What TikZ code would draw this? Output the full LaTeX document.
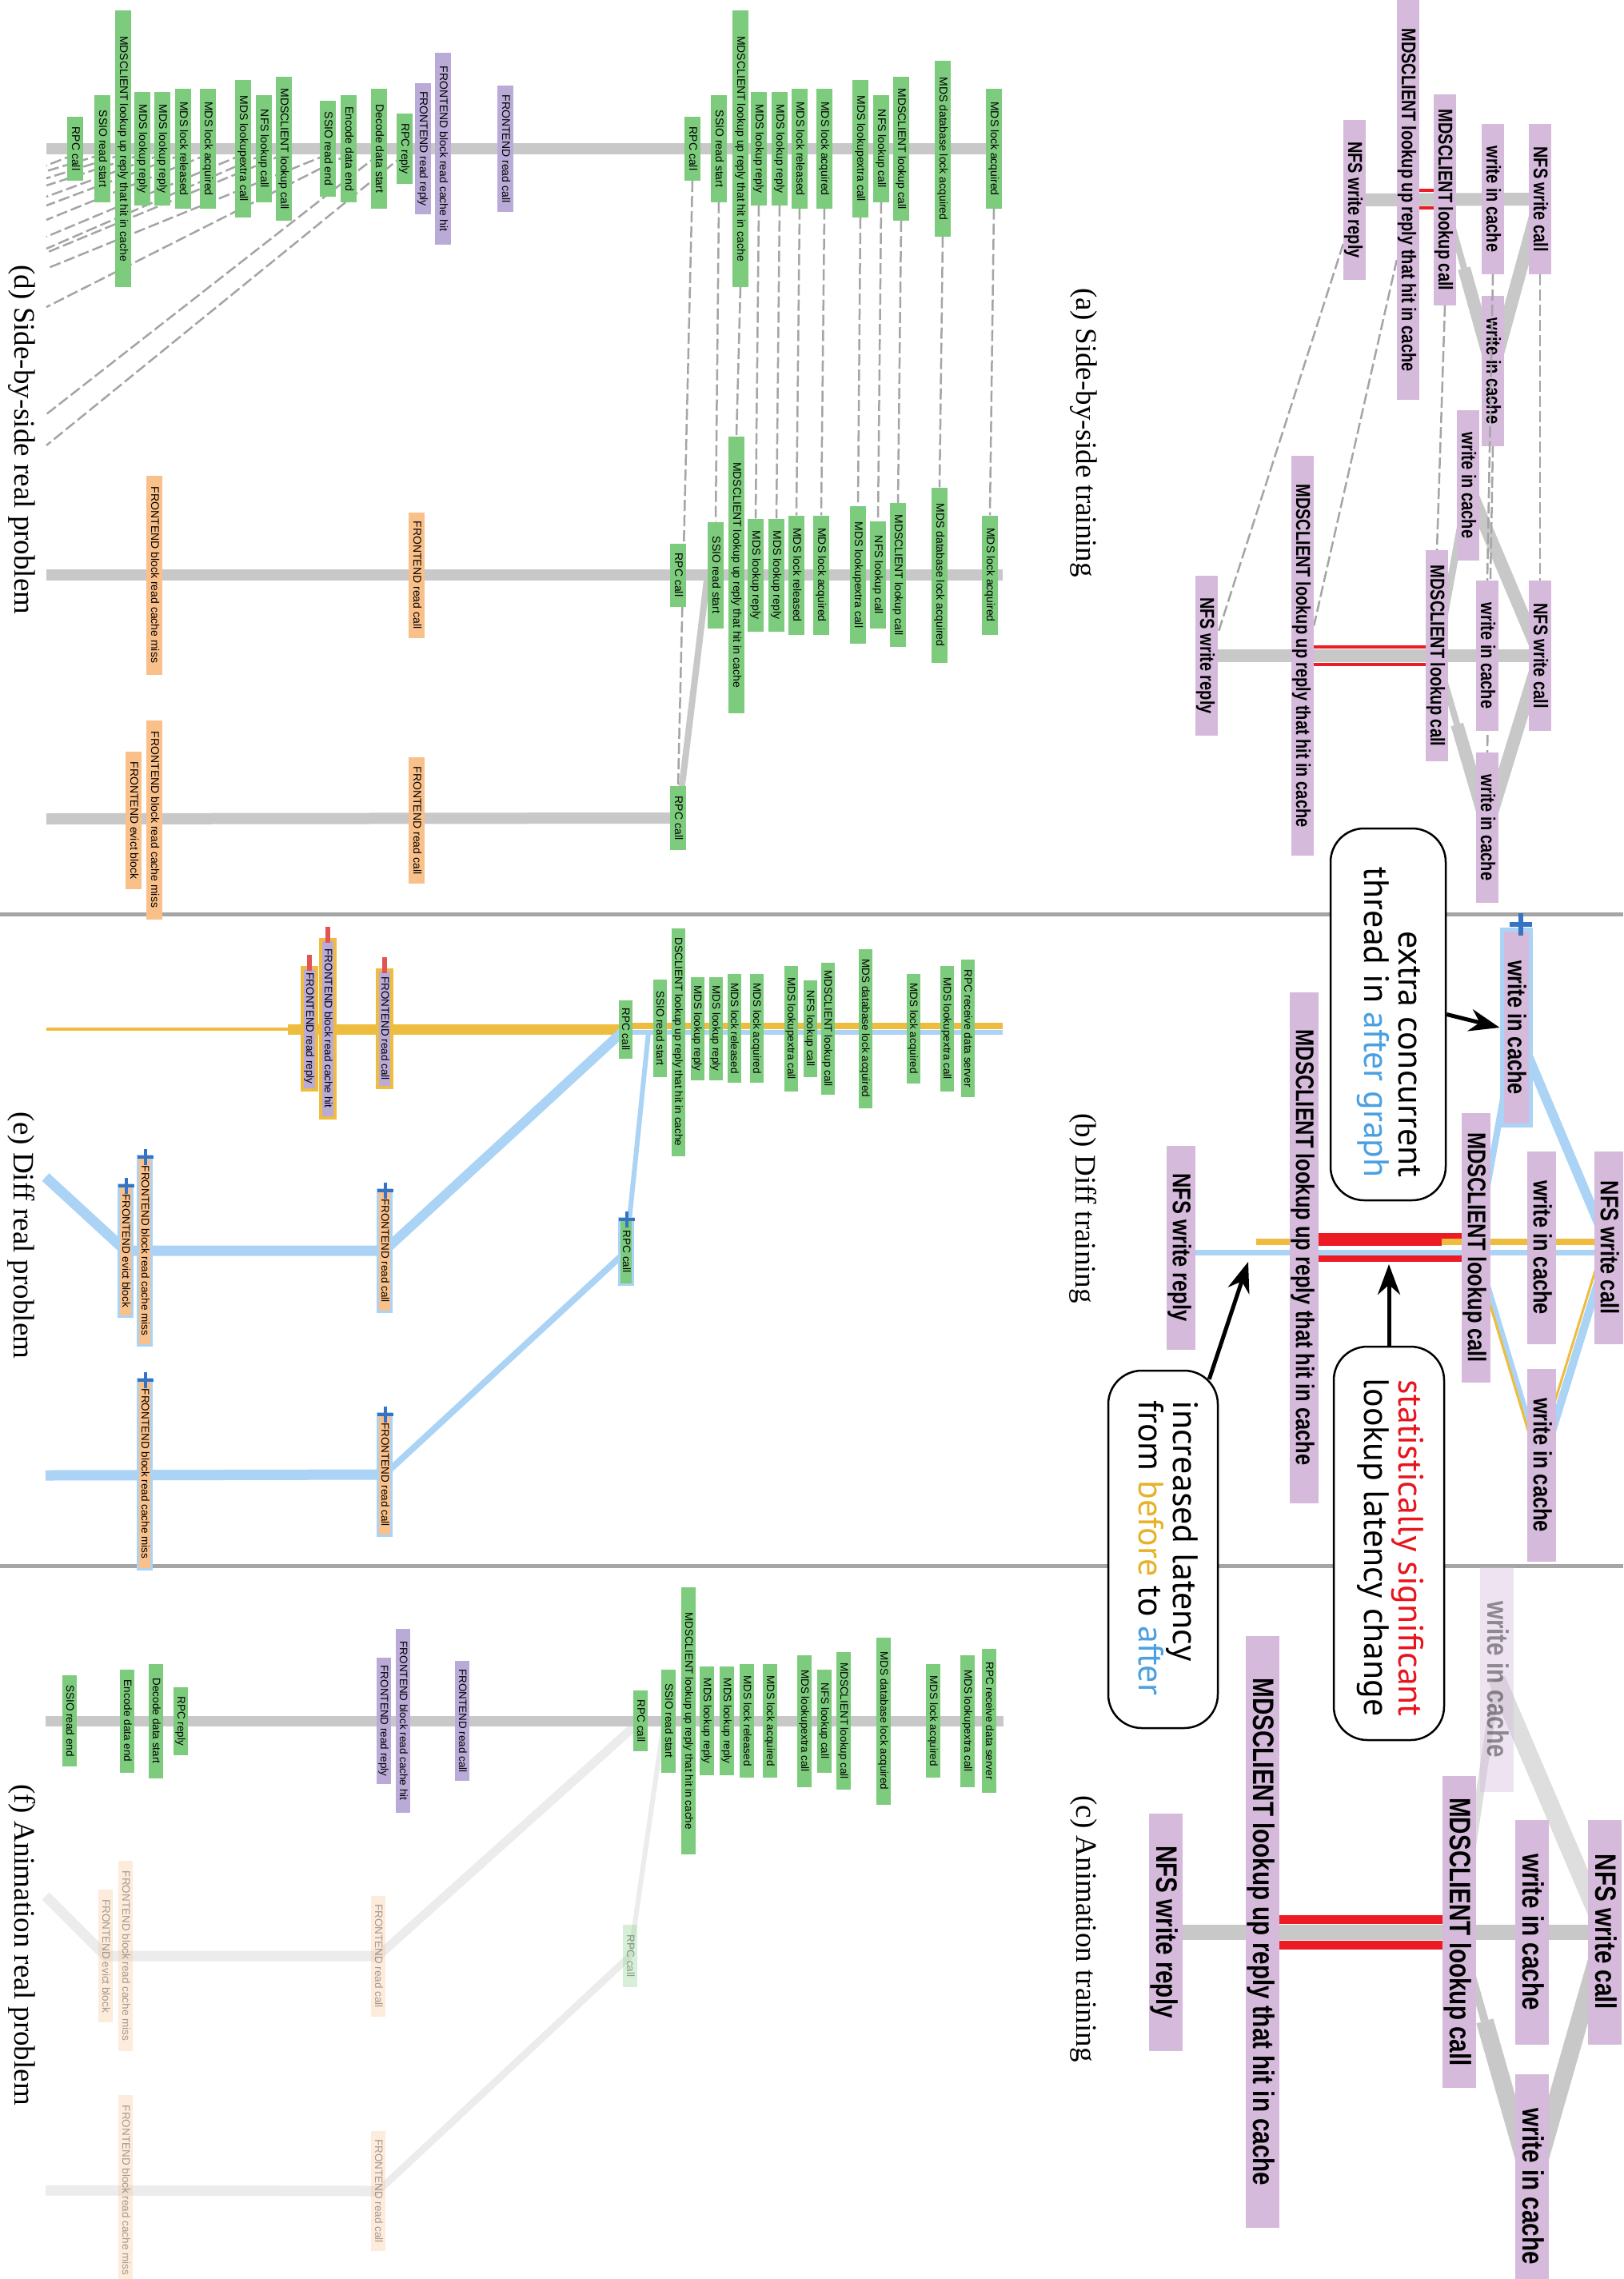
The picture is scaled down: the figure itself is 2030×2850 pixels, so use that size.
\documentclass[tikz,border=0pt]{standalone}
\usepackage{fontspec}
\usetikzlibrary{calc,arrows.meta}
\newfontfamily\tlab{Liberation Sans}[FakeStretch=0.8]
\newfontfamily\rlab{Liberation Sans}
\newfontfamily\capf{Liberation Serif}
\newfontfamily\cof{PT Sans}
\definecolor{tlav}{RGB}{213,186,219}
\definecolor{lgray}{RGB}{200,200,200}
\definecolor{fgray}{RGB}{222,222,222}
\definecolor{vfgray}{RGB}{236,236,236}
\definecolor{sepgray}{RGB}{165,165,165}
\definecolor{dashc}{RGB}{165,165,165}
\definecolor{sred}{RGB}{237,28,36}
\definecolor{lblue}{RGB}{170,211,245}
\definecolor{pblue}{RGB}{55,115,195}
\definecolor{gold}{RGB}{238,188,62}
\definecolor{rgreen}{RGB}{125,203,125}
\definecolor{rpurple}{RGB}{186,170,215}
\definecolor{rorange}{RGB}{250,192,138}
\definecolor{rmark}{RGB}{226,84,84}
\definecolor{txtblue}{RGB}{75,160,225}
\definecolor{txtgold}{RGB}{230,178,40}
\definecolor{txtred}{RGB}{232,20,30}
\pgfdeclarelayer{bottom}
\pgfdeclarelayer{back}
\pgfdeclarelayer{front}
\pgfsetlayers{bottom,back,main,front}
\newcommand\bx[6]{\node[#1,minimum width=#5pt] (#2) at (#3,#4) {#6};}
\tikzset{
  tbase/.style={rotate=-90, fill=tlav, inner sep=0pt},
  ta/.style={tbase, minimum height=28pt, font=\tlab\bfseries\fontsize{25}{25}\selectfont, text height=18pt, text depth=2pt},
  tb/.style={tbase, minimum height=36pt, font=\tlab\bfseries\fontsize{31.75}{32}\selectfont, text height=23pt, text depth=2.5pt},
  tc/.style={tbase, minimum height=42pt, font=\tlab\bfseries\fontsize{37}{37}\selectfont, text height=26.5pt, text depth=3pt},
  rbase/.style={rotate=-90, inner sep=0pt},
  rd/.style={rbase, minimum height=20pt, font=\rlab\fontsize{14}{14}\selectfont, text height=10pt, text depth=2pt},
  re/.style={rbase, minimum height=17pt, font=\rlab\fontsize{13.5}{13.5}\selectfont, text height=9.7pt, text depth=2pt},
  rf/.style={rbase, minimum height=18.5pt, font=\rlab\fontsize{13.5}{13.5}\selectfont, text height=9.7pt, text depth=2pt},
  dgr/.style={rd, fill=rgreen}, dpu/.style={rd, fill=rpurple}, dor/.style={rd, fill=rorange},
  egr/.style={re, fill=rgreen},
  epu/.style={re, minimum height=18pt, fill=rpurple, draw=gold, line width=4pt},
  eor/.style={re, fill=rorange, draw=lblue, line width=3pt},
  egh/.style={re, fill=rgreen, draw=lblue, line width=3pt},
  fgr/.style={rf, fill=rgreen}, fpu/.style={rf, fill=rpurple},
  ffo/.style={rf, fill=rorange, fill opacity=0.3, text opacity=0.35},
  ffg/.style={rf, fill=rgreen, fill opacity=0.3, text opacity=0.35},
  dsh/.style={draw=dashc, line width=2.5pt, dash pattern=on 14pt off 5pt},
  cbox/.style={rotate=-90, draw=black, line width=2.5pt, fill=white, rounded corners=42pt, inner sep=0pt},
  cotext/.style={rotate=-90, inner sep=0pt, font=\cof\fontsize{44}{44}\selectfont},
  capt/.style={rotate=-90, inner sep=0pt, font=\capf\fontsize{37}{37}\selectfont},
  arr/.style={draw=black, line width=5pt, -{Stealth[length=38pt,width=28pt]}},
  pluspic/.pic={\draw[pblue,line width=4pt] (-10,0)--(10,0) (0,-10)--(0,10);},
  pluspicb/.pic={\draw[pblue,line width=6pt] (-14,0)--(14,0) (0,-14)--(0,14);}
}
\begin{document}
\begin{tikzpicture}[x=1pt,y=-1pt]
\useasboundingbox (0,0) rectangle (2030,2850);
\begin{pgfonlayer}{bottom}
\fill[white] (0,0) rectangle (2030,2850);
\end{pgfonlayer}

% ---------------- panel (a)
\bx{ta}{a1c}{1926}{249}{188}{NFS write call}
\bx{ta}{a1w}{1867}{249}{188}{write in cache}
\bx{ta}{a1m}{1807}{250}{264}{MDSCLIENT lookup call}
\bx{ta}{a1r}{1761}{250}{500}{MDSCLIENT lookup up reply that hit in cache}
\bx{ta}{a1n}{1694}{250}{200}{NFS write reply}
\bx{ta}{a1w2}{1867}{464}{188}{write in cache}
\bx{ta}{a2c}{1926}{820}{188}{NFS write call}
\bx{ta}{a2w}{1860}{820}{188}{write in cache}
\bx{ta}{a2wu}{1836}{607}{188}{write in cache}
\bx{ta}{a2m}{1797}{820}{264}{MDSCLIENT lookup call}
\bx{ta}{a2r}{1629}{820}{500}{MDSCLIENT lookup up reply that hit in cache}
\bx{ta}{a2n}{1509}{820}{200}{NFS write reply}
\bx{ta}{a2w2}{1860}{1035}{188}{write in cache}

% ---------------- panel (b)
\bx{tb}{bc}{2012}{1560}{241}{NFS write call}
\bx{tb}{bw}{1928}{1560}{241}{write in cache}
\bx{tb}{bwl}{1928}{1832}{241}{write in cache}
\bx{tb,draw=lblue,line width=5pt}{bwx}{1896}{1285}{245}{write in cache}
\bx{tb}{bm}{1846}{1560}{337}{MDSCLIENT lookup call}
\bx{tb}{br}{1631}{1560}{639}{MDSCLIENT lookup up reply that hit in cache}
\bx{tb}{bn}{1477}{1560}{255}{NFS write reply}

% ---------------- panel (c)
\bx{tc}{cc}{2007}{2416}{281}{NFS write call}
\bx{tc}{cw}{1916}{2416}{281}{write in cache}
\bx{tc}{cwl}{1916}{2734}{281}{write in cache}
\bx{tc,fill opacity=0.4,text opacity=0.4}{cwx}{1872}{2100}{281}{write in cache}
\bx{tc}{cm}{1825}{2416}{390}{MDSCLIENT lookup call}
\bx{tc}{cr}{1579}{2416}{740}{MDSCLIENT lookup up reply that hit in cache}
\bx{tc}{cn}{1458}{2416}{297}{NFS write reply}

% ---------------- panel (d)
\bx{dgr}{d1rpc}{94}{186}{80}{RPC call}
\bx{dgr}{d1ssio}{128}{186}{133}{SSIO read start}
\bx{dgr}{d1mdsr}{154}{186}{346}{MDSCLIENT lookup up reply that hit in cache}
\bx{dgr}{d1lra}{178}{186}{141}{MDS lookup reply}
\bx{dgr}{d1lrb}{203}{186}{141}{MDS lookup reply}
\bx{dgr}{d1rel}{229}{186}{149}{MDS lock released}
\bx{dgr}{d1acq}{260}{186}{149}{MDS lock acquired}
\bx{dgr}{d1lx}{304}{186}{172}{MDS lookupextra call}
\bx{dgr}{d1nfs}{330}{186}{134}{NFS lookup call}
\bx{dgr}{d1mdc}{355}{186}{180}{MDSCLIENT lookup call}
\bx{dgr}{d1sse}{410}{186}{119}{SSIO read end}
\bx{dgr}{d1enc}{436}{186}{134}{Encode data end}
\bx{dgr}{d1dec}{474}{186}{149}{Decode data start}
\bx{dgr}{d1rpr}{506}{186}{87}{RPC reply}
\bx{dpu}{d1frr}{529}{186}{163}{FRONTEND read reply}
\bx{dpu}{d1fch}{554}{186}{239}{FRONTEND block read cache hit}
\bx{dpu}{d1frc}{632}{186}{157}{FRONTEND read call}
\bx{dgr}{d2rpc}{866}{186}{80}{RPC call}
\bx{dgr}{d2ssio}{899}{186}{133}{SSIO read start}
\bx{dgr}{d2mdsr}{926}{186}{346}{MDSCLIENT lookup up reply that hit in cache}
\bx{dgr}{d2lra}{949}{186}{141}{MDS lookup reply}
\bx{dgr}{d2lrb}{975}{186}{141}{MDS lookup reply}
\bx{dgr}{d2rel}{1000}{186}{149}{MDS lock released}
\bx{dgr}{d2acq}{1031}{186}{149}{MDS lock acquired}
\bx{dgr}{d2lx}{1076}{186}{172}{MDS lookupextra call}
\bx{dgr}{d2nfs}{1102}{186}{134}{NFS lookup call}
\bx{dgr}{d2mdc}{1127}{186}{180}{MDSCLIENT lookup call}
\bx{dgr}{d2db}{1179}{186}{219}{MDS database lock acquired}
\bx{dgr}{d2acqb}{1243}{186}{149}{MDS lock acquired}
\bx{dor}{d3fcm}{193}{719}{249}{FRONTEND block read cache miss}
\bx{dor}{d3frc}{521}{719}{157}{FRONTEND read call}
\bx{dgr}{d3rpc}{848}{719}{79}{RPC call}
\bx{dgr}{d3ssio}{895}{719}{133}{SSIO read start}
\bx{dgr}{d3mdsr}{921}{719}{346}{MDSCLIENT lookup up reply that hit in cache}
\bx{dgr}{d3lra}{945}{719}{141}{MDS lookup reply}
\bx{dgr}{d3lrb}{971}{719}{141}{MDS lookup reply}
\bx{dgr}{d3rel}{996}{719}{149}{MDS lock released}
\bx{dgr}{d3acq}{1027}{719}{149}{MDS lock acquired}
\bx{dgr}{d3lx}{1073}{719}{172}{MDS lookupextra call}
\bx{dgr}{d3nfs}{1098}{719}{134}{NFS lookup call}
\bx{dgr}{d3mdc}{1123}{719}{180}{MDSCLIENT lookup call}
\bx{dgr}{d3db}{1175}{719}{219}{MDS database lock acquired}
\bx{dgr}{d3acqb}{1238}{719}{149}{MDS lock acquired}
\bx{dor}{d4fev}{167}{1026}{172}{FRONTEND evict block}
\bx{dor}{d4fcm}{193}{1025}{249}{FRONTEND block read cache miss}
\bx{dor}{d4frc}{521}{1026}{158}{FRONTEND read call}
\bx{dgr}{d4rpc}{848}{1023}{80}{RPC call}

% ---------------- panel (e)
\bx{epu}{e1frr}{387}{1286}{153}{FRONTEND read reply}
\bx{epu}{e1fch}{410}{1286}{223}{FRONTEND block read cache hit}
\bx{epu}{e1frc}{481}{1286}{147}{FRONTEND read call}
\bx{egr}{e1rpc}{782}{1287}{73}{RPC call}
\bx{egr}{e1ssio}{825}{1286}{122}{SSIO read start}
\bx{egr}{e1mdsr}{848}{1303}{285}{DSCLIENT lookup up reply that hit in cache}
\bx{egr}{e1lra}{872}{1286}{129}{MDS lookup reply}
\bx{egr}{e1lrb}{895}{1286}{129}{MDS lookup reply}
\bx{egr}{e1rel}{918}{1286}{136}{MDS lock released}
\bx{egr}{e1acq}{946}{1286}{136}{MDS lock acquired}
\bx{egr}{e1lx}{989}{1286}{157}{MDS lookupextra call}
\bx{egr}{e1nfs}{1013}{1286}{121}{NFS lookup call}
\bx{egr}{e1mdc}{1035}{1286}{165}{MDSCLIENT lookup call}
\bx{egr}{e1db}{1082}{1286}{199}{MDS database lock acquired}
\bx{egr}{e1acqb}{1142}{1286}{137}{MDS lock acquired}
\bx{egr}{e1lxb}{1184}{1286}{157}{MDS lookupextra call}
\bx{egr}{e1rds}{1210}{1286}{172}{RPC receive data server}
\bx{eor}{e2fev}{157}{1564}{165}{FRONTEND evict block}
\bx{eor}{e2fcm}{181}{1564}{237}{FRONTEND block read cache miss}
\bx{eor}{e2frc}{481}{1564}{153}{FRONTEND read call}
\bx{egh}{e2rpc}{783}{1565}{83}{RPC call}
\bx{eor}{e3fcm}{181}{1843}{238}{FRONTEND block read cache miss}
\bx{eor}{e3frc}{481}{1844}{153}{FRONTEND read call}

% ---------------- panel (f)
\bx{fgr}{f1sse}{87}{2152}{114}{SSIO read end}
\bx{fgr}{f1enc}{159}{2152}{129}{Encode data end}
\bx{fgr}{f1dec}{195}{2152}{143}{Decode data start}
\bx{fgr}{f1rpr}{226}{2152}{85}{RPC reply}
\bx{fpu}{f1frr}{480}{2152}{158}{FRONTEND read reply}
\bx{fpu}{f1fch}{504}{2152}{230}{FRONTEND block read cache hit}
\bx{fpu}{f1frc}{578}{2152}{150}{FRONTEND read call}
\bx{fgr}{f1rpc}{801}{2152}{76}{RPC call}
\bx{fgr}{f1ssio}{836}{2152}{129}{SSIO read start}
\bx{fgr}{f1mdsr}{861}{2152}{334}{MDSCLIENT lookup up reply that hit in cache}
\bx{fgr}{f1lra}{884}{2152}{136}{MDS lookup reply}
\bx{fgr}{f1lrb}{909}{2152}{136}{MDS lookup reply}
\bx{fgr}{f1rel}{934}{2152}{142}{MDS lock released}
\bx{fgr}{f1acq}{963}{2152}{142}{MDS lock acquired}
\bx{fgr}{f1lx}{1006}{2152}{165}{MDS lookupextra call}
\bx{fgr}{f1nfs}{1031}{2152}{129}{NFS lookup call}
\bx{fgr}{f1mdc}{1055}{2152}{172}{MDSCLIENT lookup call}
\bx{fgr}{f1db}{1105}{2152}{209}{MDS database lock acquired}
\bx{fgr}{f1acqb}{1167}{2152}{142}{MDS lock acquired}
\bx{fgr}{f1lxb}{1210}{2152}{165}{MDS lookupextra call}
\bx{fgr}{f1rds}{1237}{2152}{180}{RPC receive data server}
\bx{ffo}{f2fev}{132}{2446}{166}{FRONTEND evict block}
\bx{ffo}{f2fcm}{157}{2446}{238}{FRONTEND block read cache miss}
\bx{ffo}{f2frc}{473}{2446}{151}{FRONTEND read call}
\bx{ffg}{f2rpc}{788}{2446}{78}{RPC call}
\bx{ffo}{f3fcm}{157}{2739}{238}{FRONTEND block read cache miss}
\bx{ffo}{f3frc}{473}{2740}{150}{FRONTEND read call}

% marks on boxes
\foreach \n in {e1frr,e1fch,e1frc}
  \fill[rmark] ($(\n.west)+(-3,-14)$) rectangle ($(\n.west)+(3,6)$);
\foreach \n in {e2fev,e2fcm,e2frc,e2rpc,e3fcm,e3frc}
  \pic at ($(\n.west)+(1,3)$) {pluspic};
\pic at ($(bwx.west)+(6,-4)$) {pluspicb};

% captions
\node[capt] (capa) at (1355,541) {(a) Side-by-side training};
\node[capt] (capb) at (1355,1511) {(b) Diff training};
\node[capt] (capc) at (1355,2412) {(c) Animation training};
\node[capt] (capd) at (27,550) {(d) Side-by-side real problem};
\node[capt] (cape) at (27,1545) {(e) Diff real problem};
\node[capt] (capf) at (28,2432) {(f) Animation real problem};

\begin{pgfonlayer}{back}
% separators
\draw[sepgray, line width=5pt] (0,1143) -- (2030,1143);
\draw[sepgray, line width=5pt] (0,1958) -- (2030,1958);
% (a) top
\draw[lgray, line width=16pt] (a1n.center) -- (a1c.center);
\draw[lgray, line width=16pt] (a1c.center) -- (a1w2.center);
\draw[lgray, line width=8pt] (a1m.center) -- ($(a1m.center)!0.4!(a1w2.center)$);
\draw[lgray, line width=16pt] ($(a1m.center)!0.4!(a1w2.center)$) -- (a1w2.center);
\draw[sred, line width=4pt] (a1r.center |- 0,238) -- (a1m.center |- 0,238);
\draw[sred, line width=4pt] (a1r.center |- 0,260) -- (a1m.center |- 0,260);
% (a) bottom
\draw[lgray, line width=16pt] (a2n.center) -- (a2c.center);
\draw[lgray, line width=16pt] (a2c.center) -- (a2wu.center);
\draw[lgray, line width=9pt] (a2wu.center) -- (a2m.center);
\draw[lgray, line width=8pt] (a2m.center) -- ($(a2m.center)!0.4!(a2w2.center)$);
\draw[lgray, line width=16pt] ($(a2m.center)!0.4!(a2w2.center)$) -- (a2w2.center);
\draw[lgray, line width=16pt] (a2w2.center) -- (a2c.center);
\draw[sred, line width=4.5pt] (a2r.center |- 0,809) -- (a2m.center |- 0,809);
\draw[sred, line width=4.5pt] (a2r.center |- 0,831) -- (a2m.center |- 0,831);
% (a) dashed correspondences
\draw[dsh] (a1c.east) -- (a2c.west);
\draw[dsh] (a1w2.east) -- (a2w2.west);
\draw[dsh] (a1m.east) -- (a2m.west);
\draw[dsh] ($(a1r.south)!0.3!(a1r.south east)$) -- ($(a2r.north)!0.15!(a2r.north west)$);
\draw[dsh] ($(a1n.south)!0.55!(a1n.south east)$) -- ($(a2n.north)!0.28!(a2n.north west)$);
% (b)
\coordinate (yst) at (1571,1553);
\draw[gold, line width=8pt] (yst) -- (bc.center |- yst);
\draw[lblue, line width=7pt] ($(bn.center)+(0,6)$) -- ($(bc.center)+(0,6)$);
\draw[lblue, line width=12pt] (bc.center) -- (bwx.center);
\draw[lblue, line width=8pt] (bwx.center) -- (bm.center);
\draw[lblue, line width=7pt] (bm.center) -- (bwl.center);
\draw[lblue, line width=10pt] (bwl.center) -- (bc.center);
\draw[gold, line width=3pt] ($(bm.center)+(-4,0)$) -- ($(bwl.center)+(-4,0)$);
\draw[gold, line width=3pt] ($(bwl.center)+(-8,0)$) -- ($(bc.center)+(-8,0)$);
\coordinate (rb1) at (1803,1550);
\draw[sred, line width=16pt] (br.center |- rb1) -- (rb1);
\draw[sred, line width=7pt] (rb1 |- 0,1545.5) -- (bm.center |- 0,1545.5);
\draw[sred, line width=8pt] (br.center |- 0,1574) -- (bm.center |- 0,1574);
% (c)
\draw[fgray, line width=22pt] (cc.center) -- (cwx.center);
\draw[fgray, line width=10pt] (cwx.center) -- (cm.center);
\draw[lgray, line width=19pt] (cn.center) -- (cc.center);
\draw[lgray, line width=10pt] (cm.center) -- ($(cm.center)!0.35!(cwl.center)$);
\draw[lgray, line width=22pt] ($(cm.center)!0.35!(cwl.center)$) -- (cwl.center);
\draw[lgray, line width=22pt] (cwl.center) -- (cc.center);
\draw[sred, line width=11pt] (cr.center |- 0,2400) -- (cm.center |- 0,2400);
\draw[sred, line width=11pt] (cr.center |- 0,2432) -- (cm.center |- 0,2432);
% (d)
\draw[lgray, line width=14pt] (58,186) -- (1252,186);
\draw[lgray, line width=14pt] (58,719) -- (1254,719);
\draw[lgray, line width=14pt] (58,1024) -- (d4rpc.center);
\draw[lgray, line width=8pt] (d4rpc.center) -- (d3ssio.south);
\foreach \n in {ssio,mdsr,lra,lrb,rel,acq,lx,nfs,mdc,db,acqb}
  \draw[dsh] (d2\n.east) -- (d3\n.west);
\draw[dsh] (d2rpc.east) -- (d4rpc.west);
\foreach \n/\e in {rpc/207,ssio/214,mdsr/223,lra/232,lrb/246,rel/257,acq/275,lx/296,nfs/311,mdc/316,sse/336,enc/384,dec/518,rpr/557}
  \draw[dsh] (d1\n.center |- 0,193) -- (58,\e);
% (e)
\draw[gold, line width=4pt] (58,1287) -- (360,1287);
\draw[gold, line width=13pt] (360,1287) -- (e1rpc.center);
\draw[gold, line width=8pt] (e1rpc.center |- 0,1283) -- (1254,1283);
\draw[lblue, line width=6pt] (e1rpc.center |- 0,1291) -- (1254,1291);
\draw[lblue, line width=12pt] (e1rpc.center) -- (e2frc.center);
\draw[lblue, line width=6pt] (811,1291) -- (e2rpc.center);
\draw[lblue, line width=8pt] (e2rpc.center) -- (e3frc.center);
\draw[lblue, line width=13pt, line join=round] (57,1472) -- (e2fev.center) -- (e2frc.center);
\draw[lblue, line width=13pt] (57,1845) -- (e3frc.center);
% (f)
\draw[vfgray, line width=13pt, line join=round] (57,2371) -- (f2fev.center) -- (f2frc.center);
\draw[vfgray, line width=11pt] (f2frc.center) -- (f1rpc.center);
\draw[vfgray, line width=6pt] (830,2156) -- (f2rpc.center);
\draw[vfgray, line width=9pt] (f2rpc.center) -- (f3frc.center);
\draw[vfgray, line width=13pt] (57,2739) -- (f3frc.center);
\draw[lgray, line width=13pt] (57,2152) -- (1255,2152);
\end{pgfonlayer}

\begin{pgfonlayer}{front}
\draw[dsh] (a1w.east) -- (a2w.west);
% callouts
\node[cbox, minimum width=465pt, minimum height=144pt] (co1) at (1736,1268.5) {};
\node[cotext, anchor=base east] (co1a) at (1749,1473) {extra concurrent};
\node[cotext, anchor=base east] (co1b) at (1706,1473) {thread in \textcolor{txtblue}{after graph}};
\node[cbox, minimum width=492pt, minimum height=138pt] (co2) at (1737,1930) {};
\node[cotext, anchor=base east] (co2a) at (1749,2147) {\textcolor{txtred}{statistically significant}};
\node[cotext, anchor=base east] (co2b) at (1706,2147) {lookup latency change};
\node[cbox, minimum width=447pt, minimum height=137pt] (co3) at (1454.5,1937.5) {};
\node[cotext, anchor=base west] (co3a) at (1467,1751) {increased latency};
\node[cotext, anchor=base west] (co3b) at (1424,1751) {from \textcolor{txtgold}{before} to \textcolor{txtblue}{after}};
\coordinate (redtip) at (1737,1581);
\coordinate (ytip) at (1561,1578);
\draw[arr] (co1.north) -- (bwx.south);
\draw[arr] (co2.west) -- (redtip);
\draw[arr] ($(co3.north west)+(-12,12)$) -- (ytip);
\end{pgfonlayer}
\end{tikzpicture}
\end{document}
